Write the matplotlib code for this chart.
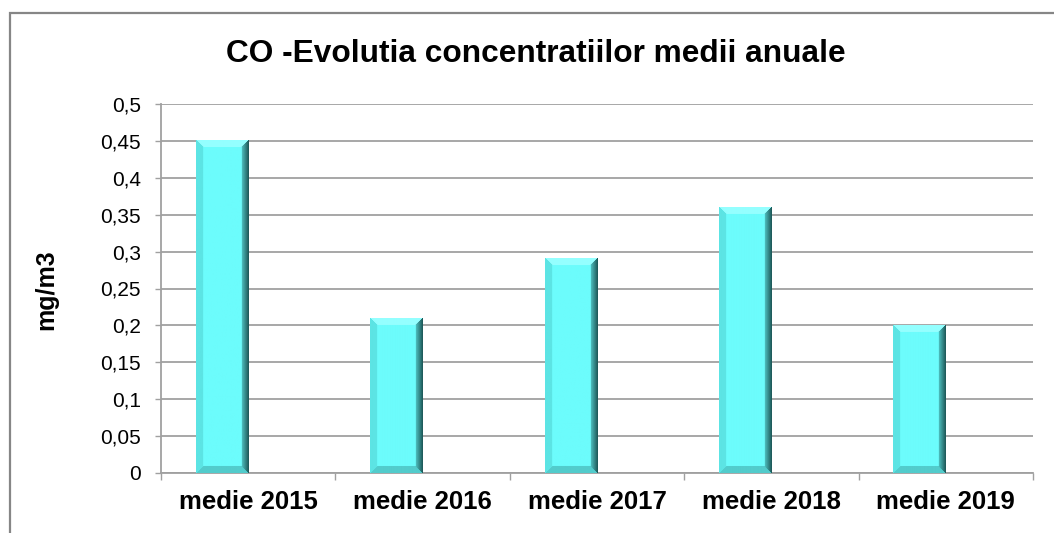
import matplotlib.pyplot as plt
import numpy as np
from matplotlib.colors import to_rgb
from matplotlib.patches import Rectangle

categories = ['medie 2015', 'medie 2016', 'medie 2017', 'medie 2018', 'medie 2019']
values = [0.45, 0.21, 0.29, 0.36, 0.20]
y_ticks = [0, 0.05, 0.1, 0.15, 0.2, 0.25, 0.3, 0.35, 0.4, 0.45, 0.5]
y_tick_labels = ['0', '0,05', '0,1', '0,15', '0,2', '0,25', '0,3', '0,35', '0,4', '0,45', '0,5']
title = 'CO -Evolutia concentratiilor medii anuale'
y_label = 'mg/m3'

plt.rcParams['font.family'] = ['Liberation Sans', 'DejaVu Sans']

W, H = 1054, 533
fig = plt.figure(figsize=(W / 100, H / 100), dpi=100)
ax = fig.add_axes([161 / W, 60 / H, (1033 - 161) / W, (473 - 104) / H])

grid_col = '#a0a0a0'
x = np.arange(len(categories))
bar_w = 0.3

ax.set_xlim(-0.5, len(categories) - 0.5)
ax.set_ylim(0, 0.5)

# grid and axes
ax.set_yticks(y_ticks)
ax.set_yticklabels(y_tick_labels, fontsize=15)
ax.yaxis.grid(True, color=grid_col, linewidth=1.3)
ax.set_axisbelow(True)
ax.tick_params(axis='y', length=4.5, width=1, color=grid_col, pad=10)

ax.set_xticks(np.arange(len(categories) + 1) - 0.5)
ax.set_xticklabels([])
ax.tick_params(axis='x', which='major', length=5, width=1, color=grid_col)
ax.set_xticks(x, minor=True)
ax.set_xticklabels(categories, minor=True, fontsize=18.5, fontweight='bold')
ax.tick_params(axis='x', which='minor', length=0, pad=12)

for s in ['top', 'right']:
    ax.spines[s].set_visible(False)
for s in ['left', 'bottom']:
    ax.spines[s].set_color(grid_col)
    ax.spines[s].set_linewidth(1.3)


def bevel_image(nx, ny, b=7):
    # bevelled cyan bar, like the Excel "cool slant" style
    center = np.array(to_rgb('#6cfcfc'))
    top = np.array(to_rgb('#94ffff'))
    left = np.array(to_rgb('#5ce4e4'))
    bottom = np.array(to_rgb('#52cccc'))
    r_in = np.array(to_rgb('#52c8c8'))
    r_out = np.array(to_rgb('#1f5c5c'))
    img = np.zeros((ny, nx, 3))
    for i in range(ny):
        for j in range(nx):
            d = {'l': j, 'r': nx - 1 - j, 't': i, 'b': ny - 1 - i}
            k = min(d, key=d.get)
            if d[k] >= b:
                img[i, j] = center
            elif k == 't':
                img[i, j] = top
            elif k == 'l':
                img[i, j] = left
            elif k == 'b':
                img[i, j] = bottom
            else:
                f = d[k] / b
                img[i, j] = r_out * (1 - f) + r_in * f
    return img


bars = ax.bar(x - bar_w / 2, values, width=bar_w, color='none', zorder=3)
for rect in bars:
    x0, w, h = rect.get_x(), rect.get_width(), rect.get_height()
    p0 = ax.transData.transform((x0, 0))
    p1 = ax.transData.transform((x0 + w, h))
    nx = max(int(round(p1[0] - p0[0])), 2)
    ny = max(int(round(p1[1] - p0[1])), 2)
    ax.imshow(bevel_image(nx, ny), extent=(x0, x0 + w, 0, h), aspect='auto',
              interpolation='bilinear', zorder=3)

ax.set_xlim(-0.5, len(categories) - 0.5)
ax.set_ylim(0, 0.5)

fig.text(535.5 / W, 1 - 62 / H, title, ha='center', va='baseline',
         fontsize=22.8, fontweight='bold')
fig.text(46 / W, 1 - 290 / H, y_label, ha='center', va='center', rotation=90,
         fontsize=18, fontweight='bold')

# outer chart border (cut off on the right and bottom)
fig.patches.append(Rectangle((9.5 / W, -0.2), 1.2, 1.2 - 12.5 / H, transform=fig.transFigure,
                             fill=False, edgecolor='#868686', linewidth=1.6))

fig.savefig('out.png', dpi=100)
